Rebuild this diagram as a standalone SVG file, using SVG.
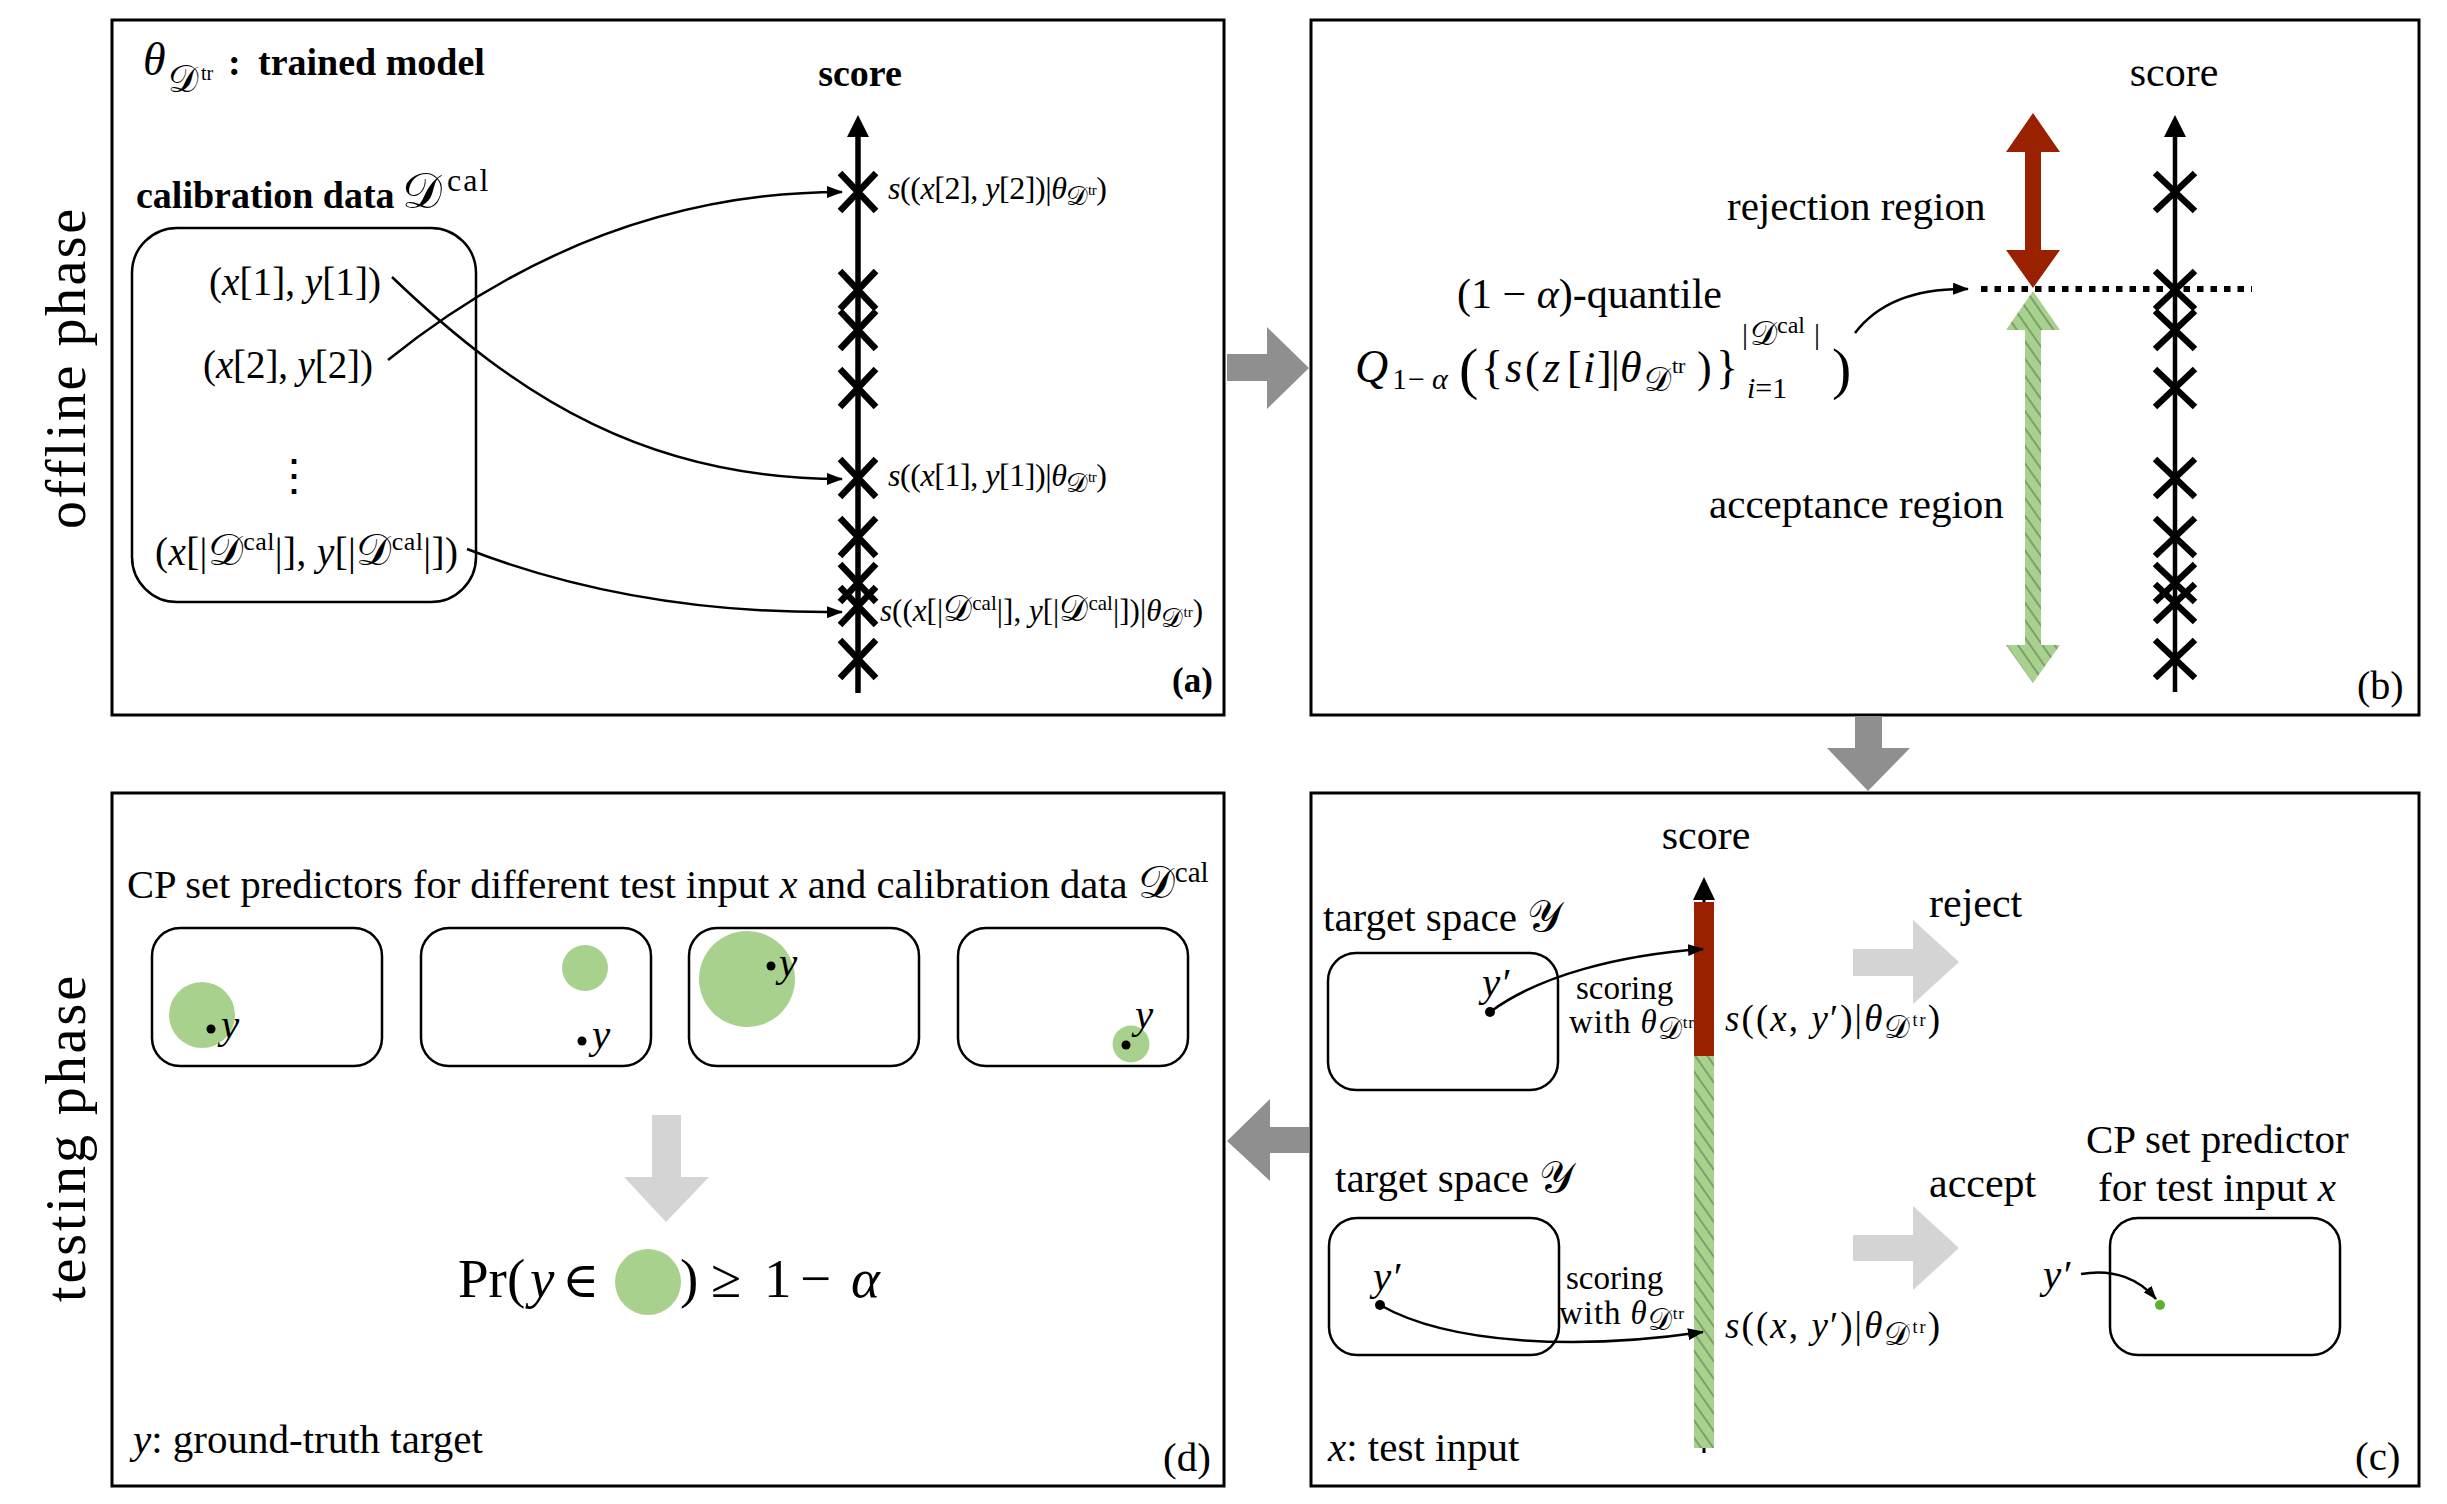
<svg xmlns="http://www.w3.org/2000/svg" width="2447" height="1504" viewBox="0 0 2447 1504">
<defs>
<style>
.t{font-family:"Liberation Serif","DejaVu Serif",serif;fill:#000}
.bd{font-weight:bold}
.it{font-style:italic}
.panel{fill:#fff;stroke:#000;stroke-width:3}
.rb{fill:#fff;stroke:#000;stroke-width:2.5}
.cx{fill:none;stroke:#000;stroke-width:6.5}
.conn{fill:none;stroke:#000;stroke-width:2.5}
.dg{fill:#8f8f8f}
.lg{fill:#d4d4d4}
.gc{fill:#a9d18e}
.red{fill:#9a2100}
</style>
<marker id="ah" markerUnits="userSpaceOnUse" markerWidth="16" markerHeight="12" refX="15" refY="6" orient="auto"><path d="M0,0 L16,6 L0,12 z" fill="#000"/></marker>
<marker id="ahs" markerUnits="userSpaceOnUse" markerWidth="14" markerHeight="10" refX="13" refY="5" orient="auto"><path d="M0,0 L14,5 L0,10 z" fill="#000"/></marker>
<pattern id="hatch" patternUnits="userSpaceOnUse" width="10" height="10" patternTransform="rotate(-35)"><rect width="10" height="10" fill="#a9d18e"/><line x1="3" y1="0" x2="3" y2="10" stroke="#66855a" stroke-width="1.3"/></pattern>
</defs>
<rect width="2447" height="1504" fill="#fff"/>

<g id="phase-labels">
<text class="t" font-size="56" text-anchor="middle" textLength="320" transform="translate(85,369) rotate(-90)">offline phase</text>
<text class="t" font-size="56" text-anchor="middle" textLength="326" transform="translate(85,1139) rotate(-90)">testing phase</text>
</g>

<g id="panel-a">
<rect class="panel" x="112" y="20" width="1112" height="695"/>
<text class="t" y="75"><tspan x="143" class="it" font-size="46">θ</tspan><tspan x="168" y="92" font-size="38">𝒟</tspan><tspan x="201" y="80" font-size="20">tr</tspan><tspan x="228" y="75" font-size="38" class="bd">:</tspan><tspan x="258" y="75" font-size="38" class="bd">trained model</tspan></text>
<text class="t" y="208"><tspan x="136" font-size="38" class="bd">calibration data</tspan><tspan x="402" font-size="50">𝒟</tspan><tspan x="447" y="191" font-size="32" letter-spacing="2">cal</tspan></text>
<rect class="rb" x="132" y="228" width="344" height="374" rx="45"/>
<text class="t" x="209" y="295" font-size="39" textLength="172">(<tspan class="it">x</tspan>[1], <tspan class="it">y</tspan>[1])</text>
<text class="t" x="203" y="378" font-size="39" textLength="170">(<tspan class="it">x</tspan>[2], <tspan class="it">y</tspan>[2])</text>
<text class="t" x="294" y="490" font-size="44" text-anchor="middle">⋮</text>
<text class="t" x="155" y="565" font-size="39" textLength="303">(<tspan class="it">x</tspan>[|<tspan font-size="44">𝒟</tspan><tspan font-size="26" dy="-15">cal</tspan><tspan dy="15">|], </tspan><tspan class="it">y</tspan>[|<tspan font-size="44">𝒟</tspan><tspan font-size="26" dy="-15">cal</tspan><tspan dy="15">|])</tspan></text>
<text class="t bd" x="860" y="86" font-size="38" text-anchor="middle">score</text>
<line x1="858" y1="134" x2="858" y2="693" stroke="#000" stroke-width="5.5"/>
<polygon points="858,115 847,137 869,137" fill="#000"/>
<path class="cx" d="M840,173L876,211M876,173L840,211M840,271L876,309M876,271L840,309M840,311L876,349M876,311L840,349M840,369L876,407M876,369L840,407M840,459L876,497M876,459L840,497M840,518L876,556M876,518L840,556M840,564L876,602M876,564L840,602M840,587L876,625M876,587L840,625M840,640L876,678M876,640L840,678"/>
<text class="t" x="888" y="199" font-size="32" textLength="219"><tspan class="it">s</tspan>((<tspan class="it">x</tspan>[2], <tspan class="it">y</tspan>[2])|<tspan class="it">θ</tspan><tspan font-size="27" dy="6">𝒟</tspan><tspan font-size="15" dy="-10">tr</tspan><tspan dy="4">)</tspan></text>
<text class="t" x="888" y="486" font-size="32" textLength="219"><tspan class="it">s</tspan>((<tspan class="it">x</tspan>[1], <tspan class="it">y</tspan>[1])|<tspan class="it">θ</tspan><tspan font-size="27" dy="6">𝒟</tspan><tspan font-size="15" dy="-10">tr</tspan><tspan dy="4">)</tspan></text>
<text class="t" x="880" y="621" font-size="31" textLength="323"><tspan class="it">s</tspan>((<tspan class="it">x</tspan>[|<tspan font-size="36">𝒟</tspan><tspan font-size="21" dy="-11">cal</tspan><tspan dy="11">|], </tspan><tspan class="it">y</tspan>[|<tspan font-size="36">𝒟</tspan><tspan font-size="21" dy="-11">cal</tspan><tspan dy="11">|])|</tspan><tspan class="it">θ</tspan><tspan font-size="27" dy="6">𝒟</tspan><tspan font-size="15" dy="-10">tr</tspan><tspan dy="4">)</tspan></text>
<text class="t bd" x="1172" y="692" font-size="35">(a)</text>
</g>

<g id="panel-b">
<rect class="panel" x="1311" y="20" width="1108" height="695"/>
<text class="t" x="2174" y="86" font-size="42" text-anchor="middle">score</text>
<text class="t" x="1727" y="220" font-size="41">rejection region</text>
<text class="t" x="1457" y="308" font-size="42">(1 − <tspan class="it">α</tspan>)-quantile</text>
<text class="t" font-size="44"><tspan x="1355" y="382" class="it" font-size="46">Q</tspan><tspan x="1392" y="389" font-size="30">1</tspan><tspan x="1408" y="389" font-size="30">−</tspan><tspan x="1432" y="389" font-size="30" class="it">α</tspan><tspan x="1459" y="388" font-size="58">(</tspan><tspan x="1481" y="383" font-size="46">{</tspan><tspan x="1505" y="382" class="it">s</tspan><tspan x="1525" y="382">(</tspan><tspan x="1543" y="382" class="it">z</tspan><tspan x="1567" y="382">[</tspan><tspan x="1583" y="382" class="it">i</tspan><tspan x="1597" y="382">]</tspan><tspan x="1611" y="382">|</tspan><tspan x="1620" y="382" class="it">θ</tspan><tspan x="1644" y="391" font-size="34">𝒟</tspan><tspan x="1672" y="373" font-size="22">tr</tspan><tspan x="1697" y="382">)</tspan><tspan x="1716" y="383" font-size="46">}</tspan><tspan x="1742" y="344" font-size="30">|</tspan><tspan x="1750" y="345" font-size="34">𝒟</tspan><tspan x="1777" y="333" font-size="24">cal</tspan><tspan x="1814" y="344" font-size="30">|</tspan><tspan x="1747" y="398" font-size="30" class="it">i</tspan><tspan font-size="30">=1</tspan><tspan x="1832" y="388" font-size="58">)</tspan></text>
<polygon class="red" points="2033,113 2060,152 2041,152 2041,250 2060,250 2033,288 2006,250 2025,250 2025,152 2006,152"/>
<polygon fill="url(#hatch)" points="2033,291 2060,330 2041,330 2041,645 2060,645 2033,683 2006,645 2025,645 2025,330 2006,330"/>
<text class="t" x="1709" y="518" font-size="41">acceptance region</text>
<line x1="2175" y1="134" x2="2175" y2="692" stroke="#000" stroke-width="4.5"/>
<polygon points="2175,115 2164,137 2186,137" fill="#000"/>
<path class="cx" d="M2155,173L2195,211M2195,173L2155,211M2155,271L2195,309M2195,271L2155,309M2155,311L2195,349M2195,311L2155,349M2155,369L2195,407M2195,369L2155,407M2155,459L2195,497M2195,459L2155,497M2155,518L2195,556M2195,518L2155,556M2155,564L2195,602M2195,564L2155,602M2155,584L2195,622M2195,584L2155,622M2155,640L2195,678M2195,640L2155,678"/>
<line x1="1981" y1="289" x2="2252" y2="289" stroke="#000" stroke-width="6" stroke-dasharray="6.5 7"/>
<text class="t" x="2357" y="699" font-size="40">(b)</text>
</g>

<g id="panel-c">
<rect class="panel" x="1311" y="793" width="1108" height="693"/>
<text class="t" x="1706" y="849" font-size="42" text-anchor="middle">score</text>
<line x1="1704" y1="1453" x2="1704" y2="896" stroke="#000" stroke-width="3"/>
<polygon points="1704,877 1693,900 1715,900" fill="#000"/>
<rect class="red" x="1694" y="902" width="20" height="154"/>
<rect fill="url(#hatch)" x="1694" y="1056" width="20" height="392"/>
<text class="t" y="931"><tspan x="1323" font-size="41">target space </tspan><tspan font-size="44">𝒴</tspan></text>
<rect class="rb" x="1328" y="953" width="230" height="137" rx="28"/>
<text class="t it" x="1482" y="996" font-size="41">y′</text>
<circle cx="1490" cy="1012" r="5" fill="#000"/>
<text class="t" x="1576" y="999" font-size="33">scoring</text>
<text class="t" x="1569" y="1033" font-size="33" textLength="125">with <tspan class="it">θ</tspan><tspan font-size="30" dy="6">𝒟</tspan><tspan font-size="17" dy="-11">tr</tspan></text>
<text class="t" x="1725" y="1031" font-size="37" textLength="215"><tspan class="it">s</tspan>((<tspan class="it">x</tspan>, <tspan class="it">y</tspan>′)|<tspan class="it">θ</tspan><tspan font-size="32" dy="7">𝒟</tspan><tspan font-size="18" dy="-12">tr</tspan><tspan dy="5">)</tspan></text>
<text class="t" x="1929" y="917" font-size="42">reject</text>
<polygon class="lg" points="1853,949 1913,949 1913,920 1959,962 1913,1004 1913,976 1853,976"/>
<text class="t" y="1192"><tspan x="1335" font-size="41">target space </tspan><tspan font-size="44">𝒴</tspan></text>
<rect class="rb" x="1329" y="1218" width="230" height="137" rx="28"/>
<text class="t it" x="1373" y="1290" font-size="41">y′</text>
<circle cx="1380" cy="1305" r="5" fill="#000"/>
<text class="t" x="1566" y="1289" font-size="33">scoring</text>
<text class="t" x="1559" y="1324" font-size="33" textLength="125">with <tspan class="it">θ</tspan><tspan font-size="30" dy="6">𝒟</tspan><tspan font-size="17" dy="-11">tr</tspan></text>
<text class="t" x="1725" y="1338" font-size="37" textLength="215"><tspan class="it">s</tspan>((<tspan class="it">x</tspan>, <tspan class="it">y</tspan>′)|<tspan class="it">θ</tspan><tspan font-size="32" dy="7">𝒟</tspan><tspan font-size="18" dy="-12">tr</tspan><tspan dy="5">)</tspan></text>
<text class="t" x="1929" y="1197" font-size="42">accept</text>
<polygon class="lg" points="1853,1235 1913,1235 1913,1206 1959,1248 1913,1290 1913,1261 1853,1261"/>
<text class="t" x="2086" y="1153" font-size="41">CP set predictor</text>
<text class="t" x="2098" y="1201" font-size="41">for test input <tspan class="it">x</tspan></text>
<rect class="rb" x="2110" y="1218" width="230" height="137" rx="28"/>
<text class="t it" x="2043" y="1288" font-size="41">y′</text>
<circle cx="2160" cy="1305" r="5" fill="#5db12f"/>
<text class="t" x="1328" y="1461" font-size="41"><tspan class="it">x</tspan>: test input</text>
<text class="t" x="2355" y="1470" font-size="41">(c)</text>
</g>

<g id="panel-d">
<rect class="panel" x="112" y="793" width="1112" height="693"/>
<text class="t" x="127" y="898" font-size="40.6">CP set predictors for different test input <tspan class="it">x</tspan> and calibration data <tspan font-size="46">𝒟</tspan><tspan font-size="29" dy="-16">cal</tspan></text>
<rect class="rb" x="152" y="928" width="230" height="138" rx="28"/>
<rect class="rb" x="421" y="928" width="230" height="138" rx="28"/>
<rect class="rb" x="689" y="928" width="230" height="138" rx="28"/>
<rect class="rb" x="958" y="928" width="230" height="138" rx="28"/>
<circle class="gc" cx="202" cy="1015" r="33"/>
<circle cx="211" cy="1029" r="4.5" fill="#000"/>
<text class="t it" x="221" y="1038" font-size="41">y</text>
<circle class="gc" cx="585" cy="968" r="23"/>
<circle cx="582" cy="1041" r="4.5" fill="#000"/>
<text class="t it" x="592" y="1048" font-size="41">y</text>
<circle class="gc" cx="747" cy="979" r="48"/>
<circle cx="771" cy="966" r="4.5" fill="#000"/>
<text class="t it" x="779" y="976" font-size="41">y</text>
<circle class="gc" cx="1131" cy="1044" r="18.5"/>
<circle cx="1126" cy="1045" r="4.5" fill="#000"/>
<text class="t it" x="1135" y="1028" font-size="41">y</text>
<polygon class="lg" points="652,1115 681,1115 681,1177 709,1177 666,1222 624,1177 652,1177"/>
<circle class="gc" cx="648" cy="1282" r="33"/>
<text class="t" y="1297" font-size="55"><tspan x="458">Pr(</tspan><tspan x="530" class="it">y</tspan><tspan x="562" font-size="50">∈</tspan><tspan x="680">)</tspan><tspan x="711">≥</tspan><tspan x="764">1</tspan><tspan x="800">−</tspan><tspan x="851" class="it">α</tspan></text>
<text class="t" x="133" y="1453" font-size="41"><tspan class="it">y</tspan>: ground-truth target</text>
<text class="t" x="1163" y="1471" font-size="41">(d)</text>
</g>

<g id="connectors">
<path class="conn" d="M392,277 C520,400 650,479 842,479" marker-end="url(#ah)"/>
<path class="conn" d="M388,360 C500,270 650,192 842,192" marker-end="url(#ah)"/>
<path class="conn" d="M467,549 C560,585 680,614 842,612" marker-end="url(#ah)"/>
<path class="conn" d="M1855,333 C1880,300 1920,288 1968,289" marker-end="url(#ah)"/>
<path class="conn" d="M1490,1012 C1540,975 1620,955 1703,949" marker-end="url(#ah)"/>
<path class="conn" d="M1380,1305 C1450,1345 1580,1350 1703,1332" marker-end="url(#ah)"/>
<path class="conn" d="M2081,1274 C2115,1268 2140,1280 2156,1299" marker-end="url(#ahs)"/>
<polygon class="dg" points="1227,354 1267,354 1267,327 1309,368 1267,409 1267,381 1227,381"/>
<polygon class="dg" points="1855,716 1882,716 1882,748 1910,748 1868,791 1827,748 1855,748"/>
<polygon class="dg" points="1309,1127 1270,1127 1270,1099 1227,1141 1270,1181 1270,1153 1309,1153"/>
</g>
</svg>
